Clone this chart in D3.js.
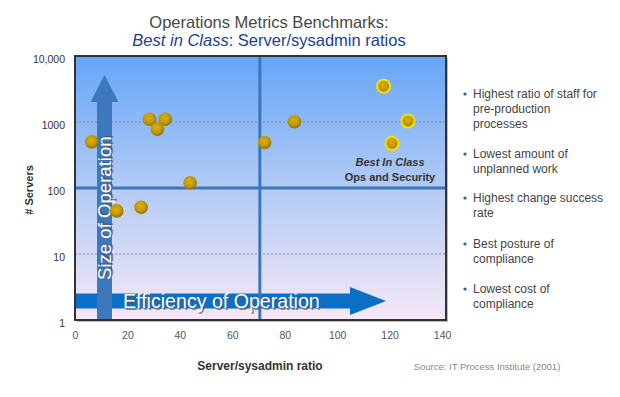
<!DOCTYPE html>
<html>
<head>
<meta charset="utf-8">
<script src="https://cdn.jsdelivr.net/npm/d3@7"></script>
<style>
  body { margin: 0; background: #fff; }
  svg { font-family: "Liberation Sans", Arial, sans-serif; }
</style>
</head>
<body>
<div id="chart"></div>
<script>
// Chart data
var ratioOthers = [6.4, 28.4, 34.4, 31.4, 43.9, 15.9, 25.2, 72.3, 83.7];
var serversOthers = [500, 1100, 1100, 780, 120, 45, 51, 490, 1010];
var ratioBest = [117.7, 127, 120.9];
var serversBest = [3500, 1040, 475];
var xTicks = [0, 20, 40, 60, 80, 100, 120, 140];
var yTicks = [1, 10, 100, 1000, 10000];
var yTickLabels = ["1", "10", "100", "1000", "10,000"];
var gridValues = [10, 1000];
var dividerRatio = 70.5;
var dividerServers = 100;
var bullets = [
  ["Highest ratio of staff for", "pre-production", "processes"],
  ["Lowest amount of", "unplanned work"],
  ["Highest change success", "rate"],
  ["Best posture of", "compliance"],
  ["Lowest cost of", "compliance"]
];

var svgWidth = 620;
var svgHeight = 397;
var plot = { left: 75, top: 56, right: 446, bottom: 320 };

var svg = d3.select("#chart")
  .append("svg")
  .attr("width", svgWidth)
  .attr("height", svgHeight);

var xScale = d3.scaleLinear().domain([0, 141.5]).range([plot.left, plot.right]);
var yScale = d3.scaleLog().domain([1, 10000]).range([plot.bottom, plot.top]);

var defs = svg.append("defs");

var bg = defs.append("linearGradient")
  .attr("id", "bg").attr("x1", 0).attr("y1", 0).attr("x2", 0).attr("y2", 1);
bg.append("stop").attr("offset", "0%").attr("stop-color", "#66a5f8");
bg.append("stop").attr("offset", "50%").attr("stop-color", "#b3cbf5");
bg.append("stop").attr("offset", "100%").attr("stop-color", "#f6e8f6");

var ball = defs.append("radialGradient")
  .attr("id", "ball").attr("cx", "45%").attr("cy", "40%").attr("r", "60%");
ball.append("stop").attr("offset", "0%").attr("stop-color", "#d9b10c");
ball.append("stop").attr("offset", "60%").attr("stop-color", "#c29a00");
ball.append("stop").attr("offset", "100%").attr("stop-color", "#8f7000");

// Title
svg.append("text")
  .attr("x", 269).attr("y", 28)
  .attr("text-anchor", "middle")
  .attr("font-size", 16.5)
  .attr("fill", "#484848")
  .text("Operations Metrics Benchmarks:");

var sub = svg.append("text")
  .attr("x", 269).attr("y", 46)
  .attr("text-anchor", "middle")
  .attr("font-size", 16.5)
  .attr("fill", "#213f8e");
sub.append("tspan").attr("font-style", "italic").text("Best in Class");
sub.append("tspan").text(": Server/sysadmin ratios");

// Plot frame with shadow
svg.append("rect")
  .attr("x", plot.left + 2).attr("y", plot.top + 2)
  .attr("width", plot.right - plot.left).attr("height", plot.bottom - plot.top)
  .attr("fill", "#bbb");

svg.append("rect")
  .attr("x", plot.left).attr("y", plot.top)
  .attr("width", plot.right - plot.left).attr("height", plot.bottom - plot.top)
  .attr("fill", "url(#bg)");

// Dotted gridlines
svg.selectAll(".grid")
  .data(gridValues)
  .enter()
  .append("line")
  .attr("x1", plot.left).attr("x2", plot.right)
  .attr("y1", d => yScale(d)).attr("y2", d => yScale(d))
  .attr("stroke", "#8a8c96")
  .attr("stroke-width", 1)
  .attr("stroke-dasharray", "2,2");

// Horizontal arrow (efficiency)
var hy = 301;
var hArrow = d3.path();
hArrow.moveTo(plot.left, hy - 7.5);
hArrow.lineTo(350, hy - 7.5);
hArrow.lineTo(350, hy - 14);
hArrow.lineTo(386, hy);
hArrow.lineTo(350, hy + 14);
hArrow.lineTo(350, hy + 7.5);
hArrow.lineTo(plot.left, hy + 7.5);
hArrow.closePath();
svg.append("path").attr("d", hArrow.toString()).attr("fill", "#0b6fc8");

// Vertical arrow (size)
var vx = 104.5;
var vArrow = d3.path();
vArrow.moveTo(vx - 7.5, plot.bottom);
vArrow.lineTo(vx - 7.5, 102);
vArrow.lineTo(vx - 14, 102);
vArrow.lineTo(vx, 75);
vArrow.lineTo(vx + 14, 102);
vArrow.lineTo(vx + 7.5, 102);
vArrow.lineTo(vx + 7.5, plot.bottom);
vArrow.closePath();
svg.append("path").attr("d", vArrow.toString()).attr("fill", "#3d78bd");

// Quadrant dividers
svg.append("line")
  .attr("x1", plot.left).attr("x2", plot.right)
  .attr("y1", yScale(dividerServers)).attr("y2", yScale(dividerServers))
  .attr("stroke", "#3a76c0").attr("stroke-width", 3);

svg.append("line")
  .attr("x1", xScale(dividerRatio)).attr("x2", xScale(dividerRatio))
  .attr("y1", plot.top).attr("y2", plot.bottom)
  .attr("stroke", "#3a76c0").attr("stroke-width", 3);

// Arrow labels with shadow
function shadowText(x, y, rotate, label, size) {
  var g = svg.append("g")
    .attr("transform", `translate(${x},${y}) rotate(${rotate})`);
  g.append("text")
    .attr("x", 1.5).attr("y", 1.5)
    .attr("font-size", size)
    .attr("fill", "#555")
    .attr("opacity", 0.7)
    .text(label);
  g.append("text")
    .attr("font-size", size)
    .attr("fill", "#fff")
    .text(label);
}
shadowText(123, 308, 0, "Efficiency of Operation", 19.6);
shadowText(111, 280, -90, "Size of Operation", 18.6);

// Frame border
svg.append("rect")
  .attr("x", plot.left).attr("y", plot.top)
  .attr("width", plot.right - plot.left).attr("height", plot.bottom - plot.top)
  .attr("fill", "none")
  .attr("stroke", "#333")
  .attr("stroke-width", 2);

// Points
svg.selectAll(".other")
  .data(ratioOthers)
  .enter()
  .append("circle")
  .attr("cx", d => xScale(d))
  .attr("cy", (d, i) => yScale(serversOthers[i]))
  .attr("r", 6.8)
  .attr("fill", "url(#ball)");

svg.selectAll(".best")
  .data(ratioBest)
  .enter()
  .append("circle")
  .attr("cx", d => xScale(d))
  .attr("cy", (d, i) => yScale(serversBest[i]))
  .attr("r", 6.5)
  .attr("fill", "url(#ball)")
  .attr("stroke", "#f3e20a")
  .attr("stroke-width", 2);

// Best in class annotation
svg.append("text")
  .attr("x", 390).attr("y", 166)
  .attr("text-anchor", "middle")
  .attr("font-size", 11)
  .attr("font-weight", "bold")
  .attr("font-style", "italic")
  .attr("fill", "#333")
  .text("Best In Class");
svg.append("text")
  .attr("x", 390).attr("y", 181)
  .attr("text-anchor", "middle")
  .attr("font-size", 11)
  .attr("font-weight", "bold")
  .attr("fill", "#333")
  .text("Ops and Security");

// Axes (labels only)
var bottomAxis = d3.axisBottom(xScale).tickValues(xTicks).tickSize(0).tickPadding(0);
var xAxis = svg.append("g")
  .attr("transform", `translate(0,${plot.bottom + 12})`)
  .call(bottomAxis);
xAxis.select(".domain").remove();
xAxis.selectAll("text")
  .attr("font-family", "\"Liberation Sans\", Arial, sans-serif")
  .attr("font-size", 10.5)
  .attr("fill", "#555");

var leftAxis = d3.axisLeft(yScale)
  .tickValues(yTicks)
  .tickFormat((d, i) => yTickLabels[i])
  .tickSize(0).tickPadding(0);
var yAxis = svg.append("g")
  .attr("transform", `translate(${plot.left - 10},3)`)
  .call(leftAxis);
yAxis.select(".domain").remove();
yAxis.selectAll("text")
  .attr("font-family", "\"Liberation Sans\", Arial, sans-serif")
  .attr("font-size", 10.5)
  .attr("fill", "#333");

// Axis titles
svg.append("text")
  .attr("transform", "translate(33,190) rotate(-90)")
  .attr("text-anchor", "middle")
  .attr("font-size", 11)
  .attr("font-weight", "bold")
  .attr("fill", "#333")
  .text("# Servers");

svg.append("text")
  .attr("x", 260).attr("y", 370)
  .attr("text-anchor", "middle")
  .attr("font-size", 12)
  .attr("font-weight", "bold")
  .attr("fill", "#333")
  .text("Server/sysadmin ratio");

svg.append("text")
  .attr("x", 487).attr("y", 370)
  .attr("text-anchor", "middle")
  .attr("font-size", 9.5)
  .attr("fill", "#888")
  .text("Source: IT Process Institute (2001)");

// Bullet list
var itemTops = [98, 158, 202, 248, 293];
var items = svg.selectAll(".item")
  .data(bullets)
  .enter()
  .append("g")
  .attr("transform", (d, i) => `translate(473,${itemTops[i]})`);

items.append("circle")
  .attr("cx", -8).attr("cy", -4)
  .attr("r", 1.6)
  .attr("fill", "#1f5fc0");

items.selectAll("text")
  .data(d => d)
  .enter()
  .append("text")
  .attr("y", (d, i) => i * 15)
  .attr("font-size", 12)
  .attr("fill", "#444")
  .text(d => d);
</script>
</body>
</html>
